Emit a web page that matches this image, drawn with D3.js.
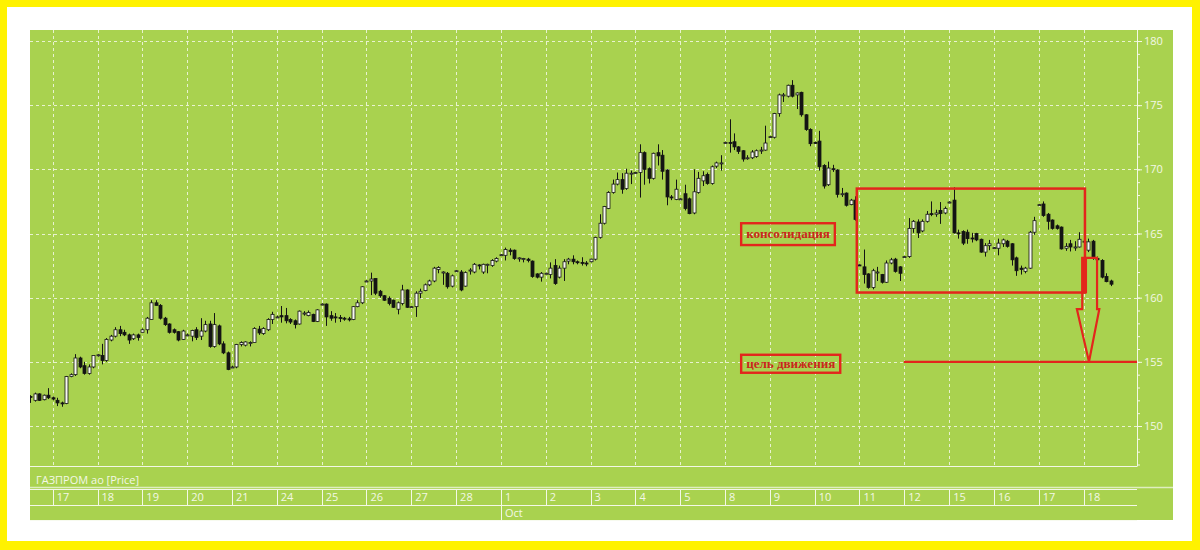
<!DOCTYPE html>
<html>
<head>
<meta charset="utf-8">
<script src="https://cdn.jsdelivr.net/npm/d3@7"></script>
<style>
body { margin: 0; background: #fff200; }
svg { display: block; }
</style>
</head>
<body>
<svg id="chart" width="1200" height="550"></svg>
<script>
// trading days shown on the bottom strip (first one is cut off on the left)
var days = ["", "17", "18", "19", "20", "21", "24", "25", "26", "27", "28", "1", "2", "3", "4", "5", "8", "9", "10", "11", "12", "15", "16", "17", "18"];
var dayCandles = [5, 10, 10, 10, 10, 10, 10, 10, 10, 10, 10, 10, 10, 10, 10, 10, 10, 10, 10, 10, 10, 10, 10, 10, 7];
var monthNames = ["Oct"];
var monthStartDay = [11];
var priceTicks = [150, 155, 160, 165, 170, 175, 180];

// hourly candles
var opens = [
  152.3, 152.0, 152.5, 152.05, 152.4,
  152.2, 152.0, 151.8, 151.75, 153.85, 154.0, 155.3, 154.7, 154.1, 154.6,
  155.5, 155.5, 155.1, 156.7, 157.0, 157.5, 157.3, 157.1, 156.8, 157.1,
  157.3, 157.5, 158.3, 159.6, 159.4, 158.4, 157.95, 157.5, 157.35, 156.75,
  157.1, 157.0, 157.5, 157.0, 157.4, 157.95, 156.2, 157.8, 156.4, 155.7,
  154.6, 154.6, 156.35, 156.3, 156.5, 156.5, 157.55, 157.2, 157.5, 158.3,
  158.5, 158.6, 158.6, 158.3, 158.2, 157.95, 158.8, 158.6, 158.7, 158.15,
  159.5, 159.5, 158.6, 158.5, 158.45, 158.4, 158.35, 158.3, 159.3, 159.6,
  161.3, 161.3, 161.5, 160.5, 160.15, 159.95, 159.8, 159.1, 159.55, 160.6,
  159.3, 159.3, 160.35, 160.55, 161.0, 161.3, 162.2, 162.0, 161.9, 160.9,
  162.05, 162.0, 160.9, 162.1, 162.0, 162.55, 162.0, 162.6, 162.5, 162.85,
  163.35, 163.3, 163.7, 163.7, 163.1, 163.05, 163.0, 162.85, 161.85, 161.6,
  161.9, 161.8, 162.5, 161.6, 162.3, 162.85, 163.0, 162.8, 162.75, 162.7,
  162.8, 163.0, 164.7, 165.8, 166.95, 168.2, 168.85, 169.2, 168.5, 169.7,
  169.75, 169.75, 171.3, 170.05, 169.3, 171.3, 171.1, 169.95, 167.85, 167.65,
  167.7, 168.1, 167.7, 166.6, 168.2, 169.1, 169.6, 168.9, 170.25, 170.45,
  172.1, 172.1, 172.15, 171.75, 171.45, 170.9, 170.9, 171.0, 171.45, 171.5,
  172.5, 172.5, 174.35, 175.75, 175.7, 176.55, 175.8, 176.0, 174.25, 173.1,
  172.1, 172.2, 170.3, 168.8, 170.05, 169.95, 168.1, 168.15, 167.25, 167.6,
  162.55, 162.4, 161.85, 160.8, 162.0, 161.8, 161.2, 162.7, 163.0, 162.4,
  163.2, 163.2, 165.4, 165.9, 165.2, 165.95, 166.55, 166.5, 166.8, 166.6,
  167.45, 167.6, 165.05, 165.15, 165.1, 164.65, 165.0, 164.55, 163.55, 164.05,
  163.9, 163.85, 164.2, 164.4, 164.2, 163.1, 162.3, 162.05, 162.3, 165.1,
  167.25, 167.3, 166.5, 166.05, 165.6, 165.5, 163.85, 164.2, 163.95, 163.95,
  164.4, 163.7, 164.4, 163.05, 162.9, 161.65, 161.3
];
var highs = [
  152.4, 152.6, 152.55, 152.45, 152.95,
  152.3, 152.2, 151.9, 153.9, 154.1, 155.6, 155.4, 155.0, 154.8, 155.5,
  155.6, 156.4, 156.85, 157.1, 157.7, 157.8, 157.5, 157.2, 157.2, 157.2,
  157.6, 158.5, 159.8, 159.8, 159.5, 158.5, 158.0, 157.6, 157.4, 157.5,
  157.2, 157.5, 157.7, 158.4, 158.2, 158.2, 158.8, 157.9, 156.6, 155.8,
  154.7, 156.4, 156.6, 156.6, 156.6, 157.7, 157.8, 157.7, 158.4, 158.9,
  158.6, 159.35, 159.2, 158.4, 158.3, 159.0, 158.95, 159.0, 158.75, 159.1,
  159.55, 159.55, 158.95, 158.8, 158.65, 158.5, 158.5, 159.35, 159.8, 160.9,
  161.35, 161.95, 161.5, 160.6, 160.2, 160.1, 159.85, 159.7, 161.0, 160.65,
  159.35, 160.5, 160.7, 161.1, 161.4, 162.4, 162.45, 162.05, 162.0, 161.8,
  162.15, 162.15, 162.05, 162.3, 162.7, 162.6, 162.65, 162.65, 163.0, 163.15,
  163.4, 163.9, 163.85, 163.75, 163.15, 163.1, 163.1, 162.9, 161.9, 162.0,
  161.95, 162.75, 163.0, 162.5, 163.0, 163.1, 163.3, 162.9, 163.15, 162.85,
  163.05, 164.75, 166.5, 167.15, 168.3, 169.2, 169.75, 169.7, 170.05, 169.9,
  169.8, 171.95, 171.4, 170.15, 171.3, 171.95, 171.5, 170.0, 168.0, 169.2,
  167.75, 168.8, 167.8, 170.0, 169.8, 169.85, 169.75, 170.3, 170.6, 171.1,
  172.15, 173.9, 172.8, 171.8, 171.5, 171.1, 171.5, 171.55, 171.75, 173.4,
  172.6, 174.4, 175.9, 175.95, 176.6, 176.95, 176.0, 176.05, 174.3, 173.2,
  172.15, 173.0, 170.4, 170.6, 170.35, 170.0, 168.55, 168.2, 167.7, 167.9,
  162.6, 163.75, 161.9, 162.25, 162.4, 161.85, 162.9, 163.1, 163.1, 162.45,
  163.25, 166.2, 166.05, 166.1, 166.1, 166.75, 167.5, 166.85, 167.45, 167.1,
  167.5, 168.6, 165.3, 165.25, 165.3, 165.05, 165.05, 164.6, 164.25, 164.5,
  163.95, 164.6, 164.6, 164.5, 164.25, 163.2, 162.5, 162.4, 165.2, 166.3,
  167.3, 167.5, 166.6, 166.1, 165.7, 165.55, 164.25, 164.5, 164.4, 165.1,
  164.45, 164.6, 164.5, 163.2, 163.0, 161.9, 161.4
];
var lows = [
  151.8, 151.9, 151.95, 152.0, 152.1,
  152.0, 151.55, 151.5, 151.7, 153.8, 153.9, 154.5, 154.0, 154.0, 154.5,
  155.4, 154.8, 155.0, 156.6, 156.9, 157.0, 157.0, 156.4, 156.7, 156.65,
  157.3, 157.2, 158.3, 159.4, 158.3, 157.8, 157.2, 157.2, 156.6, 156.7,
  157.0, 156.6, 156.7, 156.7, 157.3, 156.1, 156.1, 156.3, 155.6, 154.35,
  154.5, 154.5, 156.2, 156.2, 156.2, 156.5, 157.1, 157.1, 157.4, 157.95,
  158.45, 158.05, 158.0, 157.95, 157.6, 157.9, 158.6, 158.55, 158.1, 158.1,
  159.45, 157.8, 158.2, 158.05, 158.1, 158.2, 158.15, 158.25, 159.25, 159.5,
  161.25, 160.2, 160.2, 160.0, 159.75, 159.4, 159.2, 158.7, 159.4, 159.2,
  159.25, 158.5, 159.95, 160.5, 160.9, 161.2, 161.9, 161.0, 160.7, 160.8,
  162.0, 160.5, 160.85, 161.8, 161.9, 162.2, 161.85, 161.9, 162.4, 162.75,
  163.3, 162.9, 163.3, 162.95, 162.8, 162.75, 162.75, 161.55, 161.5, 161.25,
  161.85, 161.5, 161.0, 161.5, 161.3, 162.6, 162.6, 162.6, 162.5, 162.45,
  162.75, 162.9, 164.6, 165.7, 166.9, 168.1, 168.75, 168.1, 168.4, 168.85,
  169.7, 167.8, 168.8, 168.9, 169.2, 170.3, 169.2, 167.2, 167.6, 167.6,
  167.65, 166.8, 166.5, 166.5, 168.1, 168.7, 168.8, 168.8, 170.1, 169.9,
  172.05, 171.3, 171.5, 171.2, 170.6, 170.75, 170.8, 170.9, 171.2, 171.45,
  172.45, 172.4, 174.1, 175.25, 175.6, 175.6, 174.7, 174.1, 173.0, 171.8,
  172.0, 169.9, 168.5, 168.7, 169.8, 167.8, 167.85, 167.1, 167.2, 166.0,
  162.45, 161.1, 160.7, 160.65, 161.3, 161.1, 161.15, 162.6, 161.95, 161.3,
  163.15, 163.1, 165.05, 164.65, 165.1, 165.85, 166.35, 166.3, 165.75, 166.5,
  167.4, 165.0, 164.6, 164.1, 164.2, 164.3, 164.4, 163.5, 163.2, 163.7,
  163.85, 163.3, 163.95, 163.9, 162.5, 161.7, 161.8, 161.9, 162.25, 164.9,
  167.2, 166.3, 165.3, 165.3, 165.3, 163.75, 163.65, 163.6, 163.65, 163.9,
  164.35, 163.55, 162.95, 162.5, 161.5, 161.2, 160.9
];
var closes = [
  152.25, 152.5, 152.0, 152.4, 152.2,
  152.1, 151.8, 151.75, 153.85, 154.0, 155.3, 154.6, 154.1, 154.6, 155.5,
  155.55, 155.1, 156.75, 157.0, 157.5, 157.2, 157.1, 156.7, 157.1, 156.9,
  157.5, 158.4, 159.6, 159.4, 158.4, 157.9, 157.3, 157.3, 156.7, 157.4,
  157.1, 157.45, 156.9, 157.4, 157.9, 156.2, 157.9, 156.4, 155.7, 154.4,
  154.6, 156.35, 156.5, 156.55, 156.5, 157.6, 157.25, 157.6, 158.3, 158.7,
  158.5, 158.5, 158.2, 158.1, 157.9, 158.95, 158.8, 158.85, 158.15, 159.05,
  159.5, 158.5, 158.4, 158.45, 158.4, 158.35, 158.3, 159.3, 159.6, 160.85,
  161.3, 161.45, 160.35, 160.15, 159.8, 159.55, 159.25, 159.6, 160.6, 159.25,
  159.3, 160.35, 160.5, 161.0, 161.3, 162.3, 162.35, 162.0, 160.85, 161.7,
  162.1, 160.6, 161.95, 162.15, 162.6, 162.5, 162.6, 162.6, 162.9, 163.05,
  163.35, 163.75, 163.6, 163.05, 163.1, 163.05, 162.9, 161.65, 161.6, 161.9,
  161.9, 162.3, 161.1, 162.3, 162.8, 163.0, 162.8, 162.75, 162.7, 162.65,
  163.0, 164.7, 165.8, 167.1, 168.2, 168.85, 169.2, 168.45, 169.7, 169.7,
  169.75, 171.3, 170.0, 169.3, 171.25, 171.05, 169.85, 167.85, 167.8, 168.45,
  167.7, 166.95, 166.55, 168.25, 169.3, 169.5, 168.9, 170.2, 170.5, 170.5,
  172.1, 172.05, 171.75, 171.4, 170.8, 170.9, 171.35, 171.45, 171.5, 172.05,
  172.55, 174.35, 175.8, 175.8, 176.55, 175.7, 175.95, 174.25, 173.1, 172.0,
  172.05, 170.2, 168.7, 170.1, 170.0, 168.05, 168.1, 167.2, 167.6, 166.1,
  162.5, 161.8, 160.8, 162.1, 162.0, 161.2, 162.7, 162.95, 162.05, 161.9,
  163.2, 165.4, 165.95, 165.05, 165.95, 166.5, 166.5, 166.6, 166.55, 166.95,
  167.45, 165.05, 165.0, 164.25, 164.6, 164.6, 164.5, 163.55, 164.05, 164.2,
  163.9, 164.25, 164.5, 164.0, 162.95, 162.1, 162.2, 162.3, 165.1, 166.0,
  167.25, 166.4, 165.95, 165.4, 165.4, 163.8, 164.0, 163.95, 163.95, 164.55,
  164.4, 164.35, 163.05, 162.95, 161.6, 161.25, 161.05
];

// hand-drawn notes on the chart, in candle index / price units
var consolidationBox = [184.4, 235.3, 160.4, 168.5];     // x0, x1, lowPrice, highPrice
var arrowShaft = [234.7, 238.0, 163.1, 159.1];           // left, right, top, bottom
var arrowHead = [233.5, 238.5, 236.2, 155.0];            // left, right, tipX, tipPrice
var arrowFill = [234.7, 235.6, 163.1, 160.4];
var targetLine = [194.9, 155];                            // from index, price
var noteTexts = ["консолидация", "цель движения"];
var noteBoxes = [[158.6, 179.5, 165.8, 164.1], [158.6, 180.7, 155.55, 154.15]];

var svg = d3.select("#chart");
var plot = {left: 30, top: 30, right: 1137, bottom: 466};
var green = "#a9d24f", line = "#f3f8e6", red = "#e3261c";

var x = d3.scaleLinear().domain([0, closes.length - 1]).range([30.3, 1110.5]);
var y = d3.scaleLinear().domain([150, 180]).range([426, 41]);

// frame: yellow outer, white margin, green panel
svg.append("rect").attr("width", 1200).attr("height", 550).attr("fill", "#fff200");
svg.append("rect").attr("x", 7).attr("y", 7).attr("width", 1185).attr("height", 534).attr("fill", "#fff");
svg.append("rect").attr("x", 30).attr("y", 30).attr("width", 1143).attr("height", 490).attr("fill", green);

svg.append("defs").append("clipPath").attr("id", "clip")
  .append("rect").attr("x", plot.left).attr("y", plot.top)
  .attr("width", plot.right - plot.left).attr("height", plot.bottom - plot.top);

// day start index of every day
var dayStart = [], s = 0;
dayCandles.forEach(function(n, i) {
  dayStart.push(i == 0 ? s - (10 - n) : s);
  s += n;
});

var grid = svg.append("g").attr("stroke", line).attr("stroke-width", 1)
  .attr("stroke-dasharray", "3,3").attr("opacity", 0.85);
grid.selectAll(".h").data(priceTicks).enter().append("line")
  .attr("x1", plot.left).attr("x2", plot.right)
  .attr("y1", function(d) { return Math.round(y(d)) + 0.5; })
  .attr("y2", function(d) { return Math.round(y(d)) + 0.5; });
grid.selectAll(".v").data(dayStart.slice(1)).enter().append("line")
  .attr("y1", plot.top).attr("y2", plot.bottom)
  .attr("x1", function(d) { return Math.round(x(d)) + 0.5; })
  .attr("x2", function(d) { return Math.round(x(d)) + 0.5; });

// candles
var candles = closes.map(function(c, i) {
  return {i: i, o: opens[i], h: highs[i], l: lows[i], c: c};
});
var cg = svg.append("g").attr("clip-path", "url(#clip)");
var cnd = cg.selectAll("g.c").data(candles).enter().append("g");
cnd.append("line")
  .attr("x1", function(d) { return Math.round(x(d.i)) + 0.5; })
  .attr("x2", function(d) { return Math.round(x(d.i)) + 0.5; })
  .attr("y1", function(d) { return y(d.h); })
  .attr("y2", function(d) { return y(d.l); })
  .attr("stroke", "#141414").attr("stroke-width", 1);
cnd.append("rect")
  .attr("x", function(d) { return Math.round(x(d.i)) - 1; })
  .attr("width", 3)
  .attr("y", function(d) { return y(Math.max(d.o, d.c)); })
  .attr("height", function(d) { return Math.max(1, Math.abs(y(d.o) - y(d.c))); })
  .attr("fill", function(d) { return d.c >= d.o ? "#f7f9ef" : "#141414"; })
  .attr("stroke", "#141414").attr("stroke-width", 0.8);

// right price axis
var minor = svg.append("g").attr("transform", "translate(" + plot.right + ",0)")
  .call(d3.axisRight(y).tickValues(d3.range(147, 181)).tickSize(3).tickFormat(""));
var major = svg.append("g").attr("transform", "translate(" + plot.right + ",0)")
  .call(d3.axisRight(y).tickValues(priceTicks).tickSize(5).tickPadding(2));
[minor, major].forEach(function(a) {
  a.select(".domain").remove();
  a.selectAll("line").attr("stroke", line);
});
major.selectAll("text").attr("fill", line)
  .attr("font-family", "'Liberation Sans Narrow', 'Open Sans', sans-serif").attr("font-size", 11);
svg.append("line").attr("x1", plot.right + 0.5).attr("x2", plot.right + 0.5)
  .attr("y1", plot.top).attr("y2", plot.bottom).attr("stroke", line);
svg.append("line").attr("x1", plot.left).attr("x2", plot.right + 0.5)
  .attr("y1", plot.bottom + 0.5).attr("y2", plot.bottom + 0.5).attr("stroke", line);

// bottom strip: title, day row, month row
var strip = svg.append("g").attr("font-family", "'Liberation Sans Narrow', 'Open Sans', sans-serif")
  .attr("font-size", 11).attr("fill", line);
strip.append("text").attr("x", 36).attr("y", 484).text("ГАЗПРОМ ао [Price]");
strip.append("line").attr("x1", 30).attr("x2", 1173).attr("y1", 487.5).attr("y2", 487.5)
  .attr("stroke", "#dfeec0").attr("stroke-width", 1.5);
[489.5, 505.5, 520.5].forEach(function(yy) {
  strip.append("line").attr("x1", 30).attr("x2", plot.right).attr("y1", yy).attr("y2", yy)
    .attr("stroke", line).attr("opacity", yy > 510 ? 0.6 : 1);
});
strip.selectAll(".dsep").data(dayStart.slice(1)).enter().append("line")
  .attr("x1", function(d) { return Math.round(x(d)) + 0.5; })
  .attr("x2", function(d) { return Math.round(x(d)) + 0.5; })
  .attr("y1", 489.5).attr("y2", 505.5).attr("stroke", line);
strip.selectAll(".dlab").data(days).enter().append("text")
  .attr("x", function(d, i) { return x(dayStart[i]) + 4; })
  .attr("y", 501)
  .text(function(d) { return d; });
monthNames.forEach(function(m, k) {
  var mx = Math.round(x(dayStart[monthStartDay[k]])) + 0.5;
  strip.append("line").attr("x1", mx).attr("x2", mx).attr("y1", 505.5).attr("y2", 520)
    .attr("stroke", line);
  strip.append("text").attr("x", mx + 3.5).attr("y", 516.5).text(m);
});

// red annotations
var notes = svg.append("g").attr("stroke", red).attr("fill", "none").attr("stroke-width", 2.5);
notes.append("rect")
  .attr("x", x(consolidationBox[0])).attr("y", y(consolidationBox[3]))
  .attr("width", x(consolidationBox[1]) - x(consolidationBox[0]))
  .attr("height", y(consolidationBox[2]) - y(consolidationBox[3]));
notes.append("line").attr("x1", x(targetLine[0])).attr("x2", plot.right)
  .attr("y1", y(targetLine[1])).attr("y2", y(targetLine[1])).attr("stroke-width", 2.2);
notes.append("rect")
  .attr("x", x(arrowFill[0])).attr("y", y(arrowFill[2]))
  .attr("width", x(arrowFill[1]) - x(arrowFill[0]))
  .attr("height", y(arrowFill[3]) - y(arrowFill[2]))
  .attr("fill", red).attr("stroke-width", 1.5);
notes.append("path").attr("stroke-width", 2.2).attr("d", d3.line()([
  [x(arrowShaft[0]), y(arrowShaft[2])], [x(arrowShaft[1]), y(arrowShaft[2])],
  [x(arrowShaft[1]), y(arrowShaft[3])], [x(arrowHead[1]), y(arrowShaft[3])],
  [x(arrowHead[2]), y(arrowHead[3])], [x(arrowHead[0]), y(arrowShaft[3])],
  [x(arrowShaft[0]), y(arrowShaft[3])]
]) + "Z");

noteBoxes.forEach(function(b, k) {
  var x0 = x(b[0]), x1 = x(b[1]), y0 = y(b[2]), y1 = y(b[3]);
  notes.append("rect").attr("x", x0).attr("y", y0).attr("width", x1 - x0).attr("height", y1 - y0)
    .attr("stroke-width", 2.4);
  svg.append("text").attr("x", x0 + 5).attr("y", (y0 + y1) / 2 + 4)
    .attr("textLength", x1 - x0 - 10).attr("lengthAdjust", "spacingAndGlyphs")
    .attr("font-family", "'Liberation Serif', 'DejaVu Serif', serif").attr("font-weight", "bold")
    .attr("font-size", 12.5).attr("fill", "#c9271c").text(noteTexts[k]);
});
</script>
</body>
</html>
